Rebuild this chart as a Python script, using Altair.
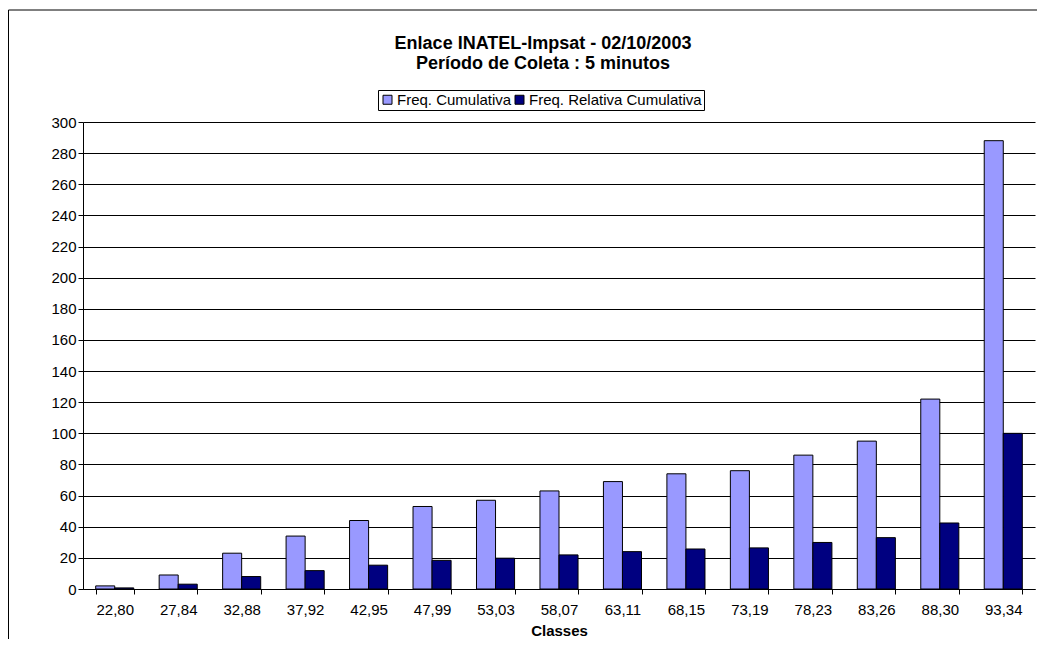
import altair as alt
import pandas as pd

classes = ["22,80", "27,84", "32,88", "37,92", "42,95", "47,99", "53,03", "58,07",
           "63,11", "68,15", "73,19", "78,23", "83,26", "88,30", "93,34"]
freq_cum = [2, 9, 23, 34, 44, 53, 57, 63, 69, 74, 76, 86, 95, 122, 288]
freq_rel = [0.7, 3.1, 8.0, 11.8, 15.3, 18.4, 19.8, 21.9, 24.0, 25.7, 26.4, 29.9, 33.0, 42.4, 100.0]
series = ["Freq. Cumulativa", "Freq. Relativa Cumulativa"]
colors = ["#9999FF", "#000080"]
y_ticks = list(range(0, 301, 20))

rows = []
for c, a, b in zip(classes, freq_cum, freq_rel):
    rows.append({"classe": c, "serie": series[0], "valor": a})
    rows.append({"classe": c, "serie": series[1], "valor": b})
df = pd.DataFrame(rows)

FONT = "Liberation Sans"

bars = alt.Chart(df).mark_bar(stroke="black", strokeWidth=1).encode(
    x=alt.X("classe:N", sort=classes, title="Classes",
            scale=alt.Scale(paddingInner=0.4, paddingOuter=0.2),
            axis=alt.Axis(labelAngle=0, tickBand="extent", labelFontSize=15,
                          labelFont=FONT, labelColor="black", labelPadding=8,
                          titleFont=FONT, titleFontSize=15, titleFontWeight="bold",
                          titleColor="black", titlePadding=6, tickSize=5,
                          domainColor="black", tickColor="black")),
    xOffset=alt.XOffset("serie:N", sort=series,
                        scale=alt.Scale(paddingInner=0, paddingOuter=0)),
    y=alt.Y("valor:Q", title=None,
            scale=alt.Scale(domain=[0, 300], nice=False),
            axis=alt.Axis(values=y_ticks, labelFontSize=15, labelFont=FONT,
                          labelColor="black", tickSize=5, labelPadding=2,
                          grid=True, gridColor="black", gridWidth=1,
                          domainColor="black", tickColor="black")),
    color=alt.Color("serie:N", scale=alt.Scale(domain=series, range=colors),
                    legend=alt.Legend(title=None, orient="none", legendX=295, legendY=-32,
                                      direction="horizontal", strokeColor="black",
                                      fillColor="white", padding=2,
                                      symbolType="square", symbolSize=81,
                                      symbolStrokeColor="black", symbolStrokeWidth=1,
                                      labelFont=FONT, labelFontSize=15, labelColor="black",
                                      labelLimit=400, columnPadding=0, labelOffset=2)),
)

frame_data = alt.Data(values=[{"k": 1}])
left_border = alt.Chart(frame_data).mark_rule(color="black", strokeWidth=1).encode(
    x=alt.value(-74.5), y=alt.value(-112), y2=alt.value(600))
top_border = alt.Chart(frame_data).mark_rule(color="black", strokeWidth=1).encode(
    x=alt.value(-74.5), x2=alt.value(1100), y=alt.value(-112))

chart = alt.layer(bars, left_border, top_border).properties(
    width=952, height=467,
    padding={"left": 75, "top": 114, "right": 2, "bottom": 50},
    autosize=alt.AutoSizeParams(type="none"),
    title=alt.TitleParams(["Enlace INATEL-Impsat - 02/10/2003", "Período de Coleta : 5 minutos"],
                          font=FONT, fontSize=18, fontWeight="bold", color="black",
                          lineHeight=20, anchor="middle", dx=-16, offset=-63),
).configure_view(stroke=None)

chart.save("out.html", embed_options={"renderer": "svg", "actions": False})
